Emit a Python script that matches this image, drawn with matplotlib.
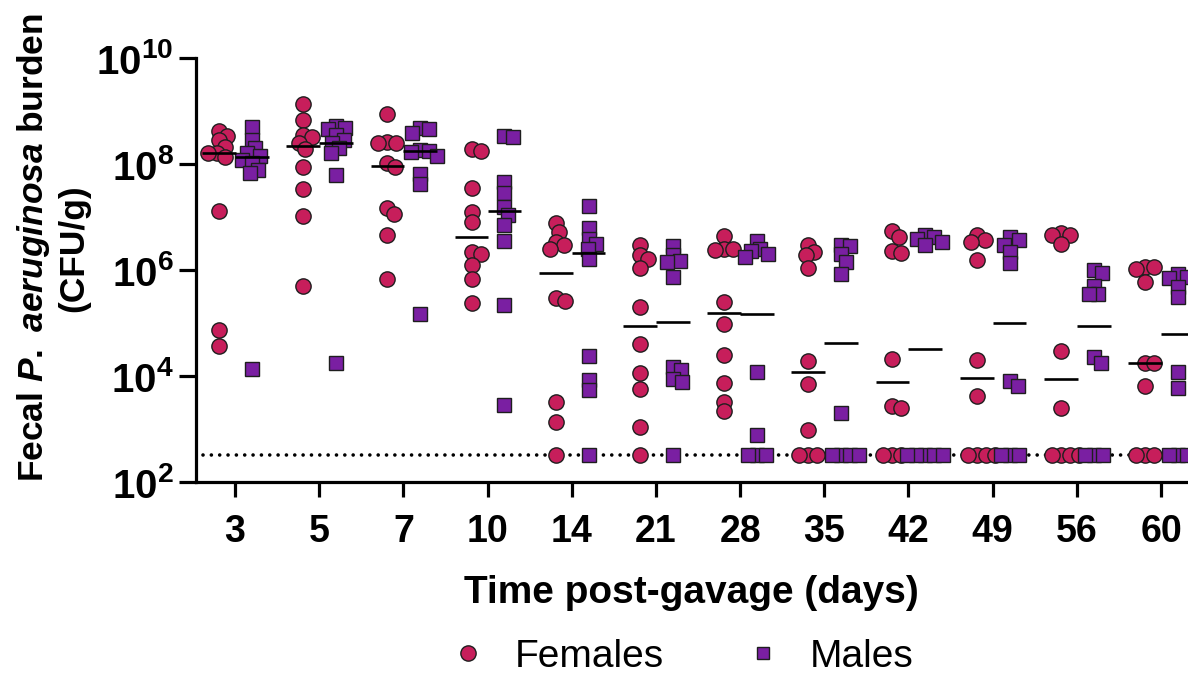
import numpy as np
import matplotlib
matplotlib.use("Agg")
import matplotlib.pyplot as plt
from matplotlib.lines import Line2D
from matplotlib.ticker import FixedLocator, FuncFormatter

plt.rcParams['font.family'] = 'Liberation Sans'
plt.rcParams['mathtext.fontset'] = 'custom'
plt.rcParams['mathtext.rm'] = 'Liberation Sans:bold'
plt.rcParams['mathtext.bf'] = 'Liberation Sans:bold'
plt.rcParams['mathtext.it'] = 'Liberation Sans:italic:bold'

# Data (log10 CFU/g); 2.52 = detection limit
days = ['3', '5', '7', '10', '14', '21', '28', '35', '42', '49', '56', '60']
lod = 330

females_log10 = [
    [8.62, 8.53, 8.45, 8.32, 8.22, 8.21, 8.14, 7.12, 4.87, 4.58],
    [9.14, 8.84, 8.55, 8.51, 8.40, 8.28, 7.95, 7.53, 7.02, 5.71],
    [8.94, 8.43, 8.41, 8.40, 8.02, 7.94, 7.17, 7.06, 6.67, 5.83],
    [8.29, 8.25, 7.56, 7.10, 6.91, 6.35, 6.30, 6.10, 5.83, 5.39],
    [6.89, 6.73, 6.54, 6.48, 6.41, 5.47, 5.43, 3.52, 3.13, 2.52],
    [6.48, 6.29, 6.21, 6.04, 5.31, 4.61, 4.06, 3.76, 3.05, 2.52],
    [6.65, 6.40, 6.40, 6.38, 5.40, 4.98, 4.40, 3.88, 3.52, 3.35],
    [6.48, 6.35, 6.28, 6.04, 4.28, 3.85, 2.99, 2.52, 2.52, 2.52],
    [6.74, 6.62, 6.37, 6.32, 4.33, 3.44, 3.41, 2.52, 2.52, 2.52],
    [6.67, 6.58, 6.54, 6.19, 4.31, 3.62, 2.52, 2.52, 2.52, 2.52],
    [6.71, 6.67, 6.67, 6.49, 4.48, 3.41, 2.52, 2.52, 2.52, 2.52],
    [6.06, 6.06, 6.02, 5.77, 4.26, 4.26, 3.82, 2.52, 2.52, 2.52],
]
males_log10 = [
    [8.70, 8.46, 8.30, 8.22, 8.15, 8.08, 8.02, 7.90, 7.84, 4.13],
    [8.72, 8.68, 8.66, 8.55, 8.45, 8.40, 8.30, 8.21, 7.80, 4.25],
    [8.68, 8.66, 8.60, 8.27, 8.26, 8.24, 8.16, 7.81, 7.63, 5.18],
    [8.53, 8.52, 7.67, 7.46, 7.20, 7.04, 6.85, 6.56, 5.35, 3.46],
    [7.21, 6.79, 6.60, 6.50, 6.41, 6.21, 4.38, 3.93, 3.75, 2.52],
    [6.46, 6.29, 6.18, 6.16, 5.88, 4.18, 4.12, 3.95, 3.90, 2.52],
    [6.56, 6.40, 6.37, 6.30, 6.25, 4.08, 2.89, 2.52, 2.52, 2.52],
    [6.48, 6.46, 6.31, 6.16, 5.93, 3.30, 2.52, 2.52, 2.52, 2.52],
    [6.67, 6.63, 6.59, 6.54, 6.48, 2.52, 2.52, 2.52, 2.52, 2.52],
    [6.62, 6.57, 6.48, 6.35, 6.13, 3.91, 3.82, 2.52, 2.52, 2.52],
    [6.01, 5.94, 5.70, 5.55, 5.55, 4.36, 4.25, 2.52, 2.52, 2.52],
    [5.93, 5.88, 5.86, 5.68, 5.49, 4.09, 3.77, 2.52, 2.52, 2.52],
]
female_median_log10 = [8.21, 8.35, 7.97, 6.63, 5.94, 4.95, 5.19, 4.08, 3.89, 3.96, 3.95, 4.26]
male_median_log10 = [8.14, 8.41, 8.25, 7.12, 6.32, 5.03, 5.17, 4.62, 4.51, 5.01, 4.95, 4.79]

female_color = '#C71E5B'
male_color = '#7A1FA2'


def swarm(ypix, min_dist):
    # horizontal offsets (pixels) so that markers don't pile up
    cands = sorted(np.arange(-40, 40.25, 0.5), key=lambda c: (abs(c), -c))
    placed = []
    offs = []
    for y in ypix:
        for c in cands:
            if all((c - px) ** 2 + (y - py) ** 2 >= min_dist ** 2 for px, py in placed):
                break
        placed.append((c, y))
        offs.append(c)
    return np.array(offs)


fig = plt.figure(figsize=(11.88, 6.77), dpi=100)
ax = fig.add_axes([196 / 1188, 1 - 482.3 / 677, (1188 - 196) / 1188, 424 / 677])
ax.set_yscale('log')
ax.set_ylim(1e2, 1e10)
ax.set_xlim(-0.463, 11.32)

groups = [
    (females_log10, female_median_log10, -0.19, female_color, 'o', 11.0),
    (males_log10, male_median_log10, 0.20, male_color, 's', 10.2),
]
for data, medians, shift, color, marker, ms in groups:
    for i, vals in enumerate(data):
        y = 10 ** np.array(vals)
        c = i + shift
        pix = ax.transData.transform(np.column_stack([np.full(len(y), c), y]))
        offs = swarm(pix[:, 1], 9.0)
        xs = ax.transData.inverted().transform(
            np.column_stack([pix[:, 0] + offs, pix[:, 1]]))[:, 0]
        ax.plot(xs, y, ls='none', marker=marker, ms=ms, mfc=color,
                mec='#1e1e1e', mew=1.0, zorder=3)
        ax.hlines(10 ** medians[i], c - 0.2, c + 0.2, color='black', lw=1.9, zorder=4)

# detection limit
ax.plot([-0.38, 11.32], [lod, lod], color='black', lw=2.6,
        linestyle=(0, (0.01, 2.3)), dash_capstyle='round', zorder=1)

ax.spines['top'].set_visible(False)
ax.spines['right'].set_visible(False)
for s in ['left', 'bottom']:
    ax.spines[s].set_linewidth(2.3)

ax.yaxis.set_major_locator(FixedLocator([1e2, 1e4, 1e6, 1e8, 1e10]))
ax.yaxis.set_minor_locator(FixedLocator([]))
ax.yaxis.set_major_formatter(FuncFormatter(lambda v, p: r'$\mathbf{10^{%d}}$' % round(np.log10(v))))
ax.tick_params(axis='y', length=12, width=2.3, pad=4, labelsize=29)

ax.set_xticks(range(len(days)))
ax.set_xticklabels(days, fontsize=27, fontweight='bold')
ax.tick_params(axis='x', length=10.8, width=2.3, pad=12)

fig.text(691 / 1188, 1 - 593 / 677, 'Time post-gavage (days)', fontsize=28,
         fontweight='bold', ha='center', va='center')
fig.text(53 / 1188, 1 - 248 / 677,
         'Fecal $\\mathit{P.\\ aeruginosa}$ burden\n(CFU/g)', fontsize=25.5,
         fontweight='bold', rotation=90, ha='center', va='center',
         multialignment='center')

handles = [
    Line2D([], [], ls='none', marker='o', ms=11, mfc=female_color, mec='#1e1e1e', mew=1.0),
    Line2D([], [], ls='none', marker='s', ms=8.6, mfc=male_color, mec='#1e1e1e', mew=1.0),
]
fig.legend(handles, ['Females', 'Males'], loc='center', ncol=2, frameon=False,
           bbox_to_anchor=(681 / 1188, 1 - 657 / 677), fontsize=28,
           handlelength=1.0, handletextpad=0.7, columnspacing=2.04, borderpad=0)

fig.savefig('out.png', dpi=100)
